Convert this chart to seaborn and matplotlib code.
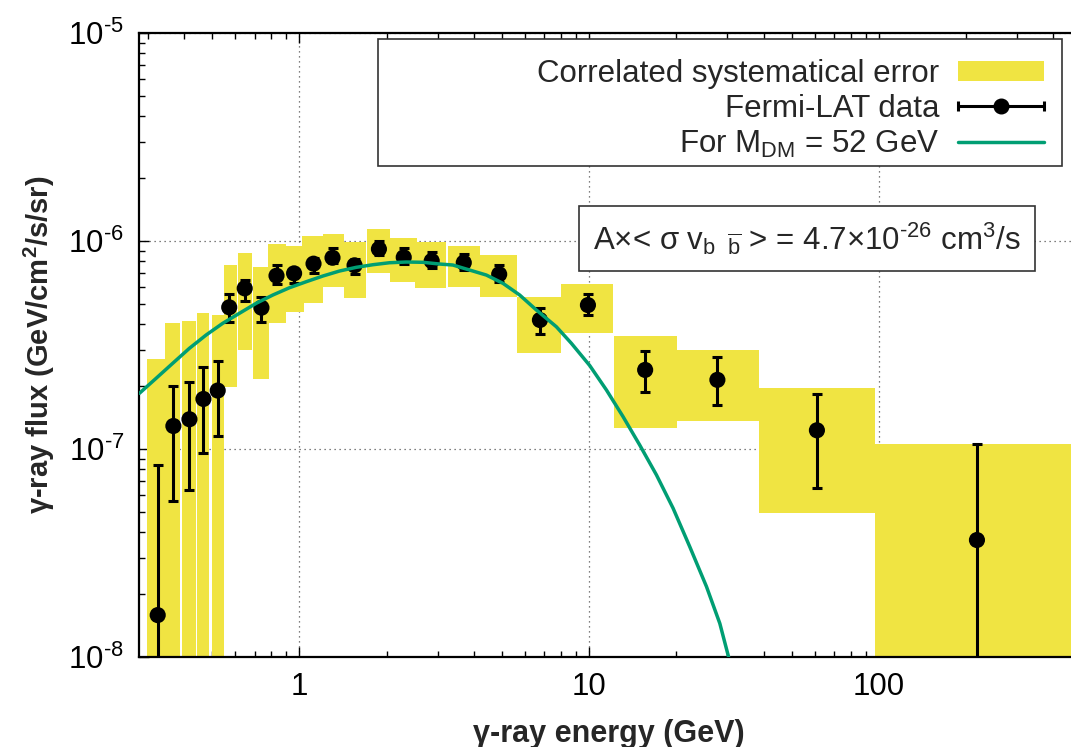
import numpy as np
import matplotlib
matplotlib.use("Agg")
import matplotlib.pyplot as plt
import seaborn as sns
import pandas as pd
from matplotlib.patches import Patch, Rectangle
from matplotlib.lines import Line2D
from matplotlib.collections import LineCollection
from matplotlib.container import ErrorbarContainer
from matplotlib.legend_handler import HandlerErrorbar
from matplotlib.ticker import FixedLocator, FixedFormatter, LogLocator, NullFormatter

# ---------------- data ----------------
energy = [0.324, 0.367, 0.417, 0.466, 0.522, 0.572, 0.647, 0.739, 0.833, 0.958,
          1.118, 1.30, 1.549, 1.88, 2.29, 2.86, 3.69, 4.89, 6.76, 9.9,
          15.6, 27.7, 61.1, 218.0]
flux = [1.59e-8, 1.29e-7, 1.39e-7, 1.74e-7, 1.91e-7, 4.80e-7, 5.92e-7, 4.78e-7, 6.81e-7, 6.99e-7,
        7.78e-7, 8.31e-7, 7.64e-7, 9.15e-7, 8.35e-7, 8.02e-7, 7.87e-7, 6.92e-7, 4.17e-7, 4.92e-7,
        2.40e-7, 2.15e-7, 1.23e-7, 3.65e-8]
flux_hi = [8.38e-8, 2.01e-7, 2.11e-7, 2.49e-7, 2.65e-7, 5.56e-7, 6.49e-7, 5.40e-7, 7.67e-7, 7.31e-7,
           8.26e-7, 9.22e-7, 8.17e-7, 1.003e-6, 9.22e-7, 8.85e-7, 8.66e-7, 7.67e-7, 4.75e-7, 5.54e-7,
           2.97e-7, 2.76e-7, 1.83e-7, 1.06e-7]
flux_lo = [1e-9, 5.64e-8, 6.35e-8, 9.6e-8, 1.15e-7, 4.07e-7, 5.15e-7, 4.07e-7, 6.21e-7, 6.26e-7,
           7.04e-7, 7.81e-7, 6.92e-7, 8.57e-7, 7.73e-7, 7.41e-7, 7.26e-7, 6.37e-7, 3.57e-7, 4.39e-7,
           1.87e-7, 1.63e-7, 6.47e-8, 1e-9]

bin_lo = [0.297, 0.344, 0.392, 0.444, 0.498, 0.548, 0.612, 0.690, 0.777, 0.900,
          1.024, 1.204, 1.430, 1.708, 2.047, 2.510, 3.253, 4.209, 5.649, 8.017,
          12.15, 20.17, 38.5, 97.0]
bin_hi = [0.344, 0.388, 0.440, 0.486, 0.548, 0.609, 0.688, 0.783, 0.900, 1.040,
          1.204, 1.430, 1.690, 2.047, 2.542, 3.212, 4.209, 5.649, 8.017, 12.08,
          20.17, 38.5, 97.0, 500.0]
sys_lo = [1e-9, 1e-9, 1e-9, 1e-9, 1e-9, 1.99e-7, 2.99e-7, 2.18e-7, 4.05e-7, 4.57e-7,
          5.02e-7, 6.03e-7, 5.34e-7, 7.04e-7, 6.33e-7, 5.92e-7, 6.03e-7, 5.36e-7, 2.88e-7, 3.62e-7,
          1.26e-7, 1.37e-7, 4.91e-8, 1e-9]
sys_hi = [2.71e-7, 4.02e-7, 4.12e-7, 4.51e-7, 4.41e-7, 7.67e-7, 8.79e-7, 7.47e-7, 9.67e-7, 9.46e-7,
          1.057e-6, 1.081e-6, 9.86e-7, 1.142e-6, 1.03e-6, 9.92e-7, 9.46e-7, 8.57e-7, 5.36e-7, 6.21e-7,
          3.49e-7, 2.99e-7, 1.97e-7, 1.06e-7]

model_E = [0.2802, 0.3199, 0.3650, 0.4169, 0.4762, 0.5433, 0.6204, 0.7087, 0.8089, 0.9236,
           1.0547, 1.2036, 1.374, 1.570, 1.791, 2.046, 2.337, 2.667, 3.045, 3.384,
           4.415, 5.038, 5.754, 6.571, 7.703, 8.682, 10.04, 11.47, 13.09, 14.94,
           17.07, 19.48, 22.24, 25.40, 28.24, 30.17, 31.3]
model_F = [1.853e-7, 2.187e-7, 2.582e-7, 3.049e-7, 3.533e-7, 4.021e-7, 4.492e-7, 5.017e-7, 5.499e-7, 5.962e-7,
           6.371e-7, 6.785e-7, 7.172e-7, 7.472e-7, 7.69e-7, 7.863e-7, 7.925e-7, 7.90e-7, 7.75e-7, 7.665e-7,
           6.86e-7, 6.26e-7, 5.50e-7, 4.66e-7, 3.87e-7, 3.22e-7, 2.52e-7, 1.921e-7, 1.43e-7, 1.045e-7,
           7.5e-8, 5.19e-8, 3.39e-8, 2.18e-8, 1.45e-8, 1.02e-8, 8.2e-9]

x_ticks = [1, 10, 100]
x_tick_labels = ["1", "10", "100"]
y_ticks = [1e-8, 1e-7, 1e-6, 1e-5]
y_tick_labels = [r"$\mathregular{10^{\text{-}8}}$", r"$\mathregular{10^{\text{-}7}}$",
                 r"$\mathregular{10^{\text{-}6}}$", r"$\mathregular{10^{\text{-}5}}$"]

legend_labels = ["Correlated systematical error", "Fermi-LAT data",
                 r"For M$_{\mathregular{DM}}$ = 52 GeV"]
annotation = (r"A×< σ v$_{\mathregular{b\ \ }\overline{\mathregular{b}}}$ > = 4.7×10$^{\text{-}\mathregular{26}}$"
              r" cm$^{\mathregular{3}}$/s")
x_label = "γ-ray energy (GeV)"
y_label = r"γ-ray flux (GeV/cm$^{\mathbf{2}}$/s/sr)"

# ---------------- style ----------------
sns.set_style("ticks")
plt.rcParams["font.family"] = ["Liberation Sans", "DejaVu Sans"]
plt.rcParams["mathtext.fontset"] = "custom"
plt.rcParams["mathtext.rm"] = "Liberation Sans"
plt.rcParams["mathtext.it"] = "Liberation Sans:italic"
plt.rcParams["mathtext.bf"] = "Liberation Sans:bold"
plt.rcParams["mathtext.sf"] = "Liberation Sans"

YELLOW = "#f0e442"
GREEN = "#009e73"
FS = 22.5

fig = plt.figure(figsize=(10.71, 7.47), dpi=100)
ax = fig.add_axes([0.1301, 0.1205, 0.8796, 0.8353])
ax.set_xscale("log")
ax.set_yscale("log")
ax.set_xlim(0.28, 500)
ax.set_ylim(1e-8, 1e-5)

# systematic boxes
widths = np.array(bin_hi) - np.array(bin_lo)
heights = np.array(sys_hi) - np.array(sys_lo)
ax.bar(bin_lo, heights, width=widths, bottom=sys_lo, align="edge",
       color=YELLOW, edgecolor="none", linewidth=0, zorder=1)

# data points
df = pd.DataFrame({"E": energy, "F": flux})
yerr = [np.array(flux) - np.array(flux_lo), np.array(flux_hi) - np.array(flux)]
ax.errorbar(energy, flux, yerr=yerr, fmt="none", ecolor="black",
            elinewidth=2.2, capsize=3.6, capthick=2.2, zorder=3)
sns.scatterplot(data=df, x="E", y="F", color="black", s=135, edgecolor="none",
                ax=ax, zorder=4, legend=False)

# model curve
dm = pd.DataFrame({"E": model_E, "F": model_F})
sns.lineplot(data=dm, x="E", y="F", color=GREEN, lw=2.5, sort=False,
             estimator=None, ax=ax, zorder=5, legend=False)

# grid / ticks
ax.set_axisbelow(True)
ax.xaxis.set_major_locator(FixedLocator(x_ticks))
ax.xaxis.set_major_formatter(FixedFormatter(x_tick_labels))
ax.xaxis.set_minor_locator(LogLocator(base=10, subs=np.arange(2, 10), numticks=20))
ax.xaxis.set_minor_formatter(NullFormatter())
ax.yaxis.set_major_locator(FixedLocator(y_ticks))
ax.yaxis.set_major_formatter(FixedFormatter(y_tick_labels))
ax.yaxis.set_minor_locator(LogLocator(base=10, subs=np.arange(2, 10), numticks=20))
ax.yaxis.set_minor_formatter(NullFormatter())
ax.grid(True, which="major", color="#555555", linestyle=(0, (1, 3)), linewidth=0.9, zorder=0)
ax.tick_params(which="both", direction="in", top=True, right=False, width=1.0,
               colors="black", labelsize=FS)
ax.tick_params(which="major", length=7, pad=11)
ax.tick_params(which="minor", length=4)
for s in ["left", "bottom", "top"]:
    ax.spines[s].set_linewidth(1.6)
    ax.spines[s].set_color("black")
ax.spines["right"].set_visible(False)

ax.set_xlabel(x_label, fontsize=22, fontweight="bold")
ax.set_ylabel(y_label, fontsize=21, fontweight="bold")
ax.xaxis.set_label_coords(0.4986, -0.1234)
ax.xaxis.label.set_va("center")
ax.yaxis.set_label_coords(-0.1065, 0.5)
ax.yaxis.label.set_va("center")

# legend frame + legend
ax.add_patch(Rectangle((0.2534, 0.7869), 0.9795 - 0.2534, 0.9904 - 0.7869,
                       transform=ax.transAxes, facecolor="white", edgecolor="#333333",
                       linewidth=1.2, zorder=6))
sys_handle = Patch(facecolor=YELLOW, edgecolor="none")
pl = Line2D([], [], ls="none", marker="o", color="black", ms=10.5)
cap = Line2D([], [], ls="none", marker="|", color="black", ms=7, mew=2.2)
bars = LineCollection([], colors="black", linewidths=2.2)
data_handle = ErrorbarContainer((pl, (cap, cap), (bars,)), has_xerr=True, has_yerr=False)
model_handle = Line2D([], [], color=GREEN, lw=2.5)
leg = ax.legend([sys_handle, data_handle, model_handle], legend_labels,
                loc="upper right", bbox_to_anchor=(0.9604, 0.958), frameon=False,
                markerfirst=False, handlelength=2.75, handleheight=0.6,
                handletextpad=0.6, labelspacing=0.15, borderpad=0, borderaxespad=0,
                fontsize=FS, numpoints=1,
                handler_map={ErrorbarContainer: HandlerErrorbar(xerr_size=1.38)})
leg.set_zorder(7)

ax.text(0.7083, 0.671, annotation, transform=ax.transAxes, ha="center", va="center",
        fontsize=FS, zorder=8,
        bbox=dict(boxstyle="square,pad=0.45", facecolor="white", edgecolor="#333333", linewidth=1.2))

fig.savefig("out.png", dpi=100)
